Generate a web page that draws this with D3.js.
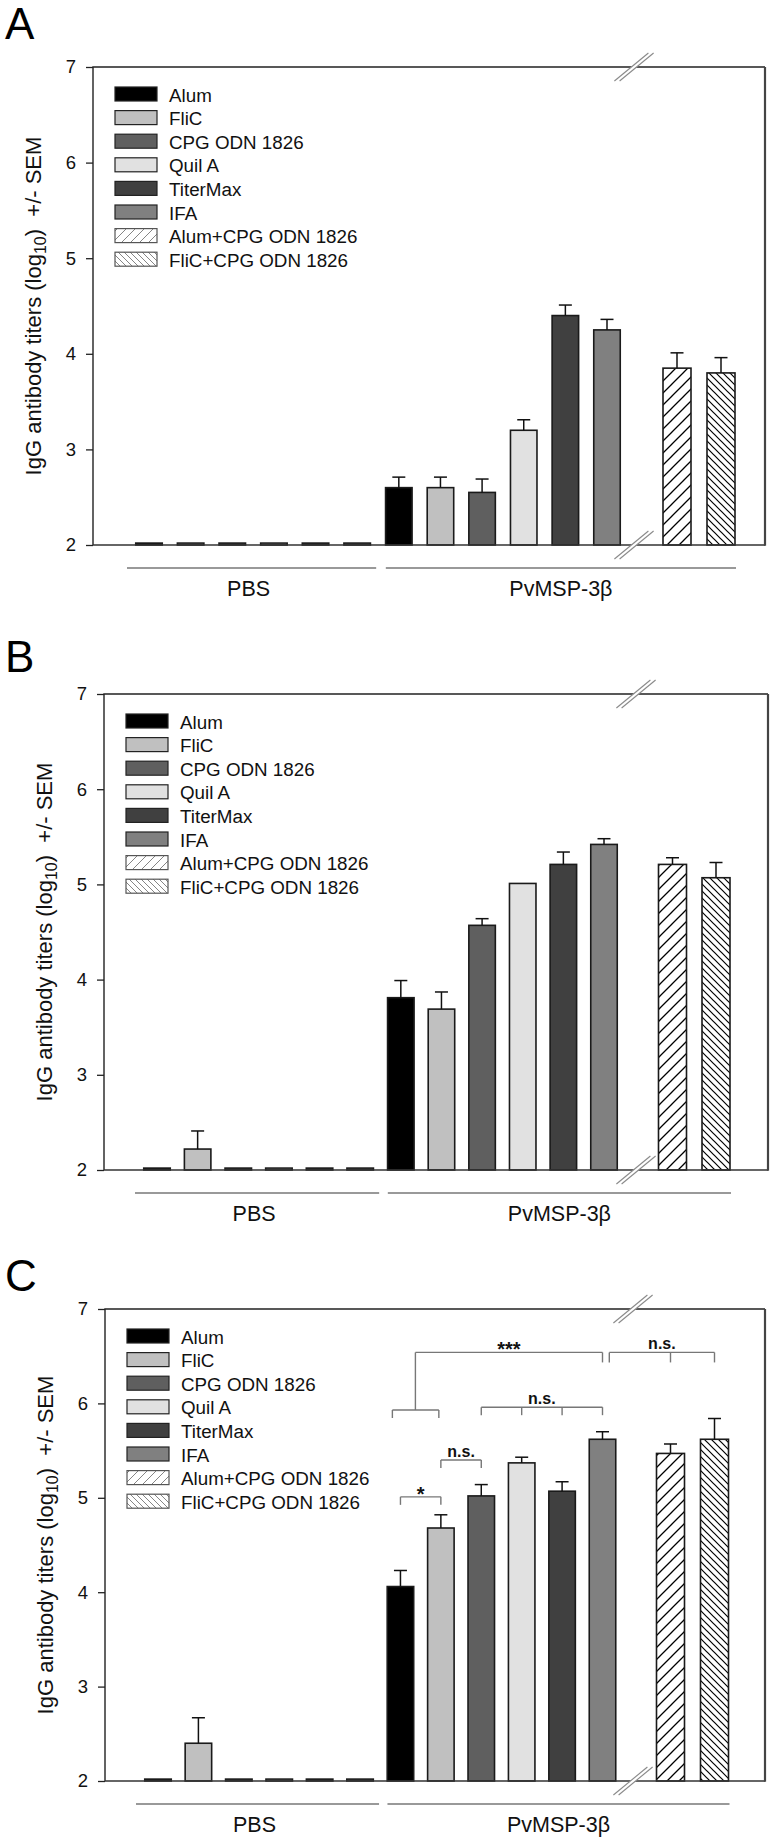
<!DOCTYPE html>
<html><head><meta charset="utf-8">
<script src="https://cdn.jsdelivr.net/npm/d3@7"></script>
<style>body{margin:0;background:#fff} text{font-family:"Liberation Sans",Arial,sans-serif}</style>
</head><body><svg id="c" width="775" height="1843"></svg>
<script>
// ---------- data ----------
const adjuvants = ["Alum","FliC","CPG ODN 1826","Quil A","TiterMax","IFA","Alum+CPG ODN 1826","FliC+CPG ODN 1826"];
const groups = ["PBS","PvMSP-3β"];
const yTicks = [2,3,4,5,6,7];
const panelLetters = ["A","B","C"];
// PBS group: first six adjuvants; PvMSP-3β group: all eight
const pbsA = [2.02,2.02,2.02,2.02,2.02,2.02];
const pbsSemA = [0,0,0,0,0,0];
const mspA = [2.6,2.6,2.55,3.2,4.4,4.25,3.85,3.8];
const mspSemA = [0.11,0.11,0.14,0.11,0.11,0.11,0.16,0.16];
const pbsB = [2.02,2.22,2.02,2.02,2.02,2.02];
const pbsSemB = [0,0.19,0,0,0,0];
const mspB = [3.81,3.69,4.57,5.01,5.21,5.42,5.21,5.07];
const mspSemB = [0.18,0.18,0.07,0,0.13,0.06,0.07,0.16];
const pbsC = [2.02,2.40,2.02,2.02,2.02,2.02];
const pbsSemC = [0,0.27,0,0,0,0];
const mspC = [4.06,4.68,5.02,5.37,5.07,5.62,5.47,5.62];
const mspSemC = [0.17,0.14,0.12,0.06,0.10,0.08,0.10,0.22];
// significance brackets for panel C: bar positions (0-13) and height in log10 units
const sigX = [[6,7],[7,8],[8,9,10,11],[5.8,6.95],[6.37,11],[11.1,12,13]];
const sigY = [5.01,5.40,5.96,5.93,6.54,6.54];
const sigLabel = ["*","n.s.","n.s.","","***","n.s."];

// ---------- layout ----------
const colors = ["#000000","#c0c0c0","#5f5f5f","#e1e1e1","#404040","#808080","url(#hF)","url(#hB)"];
const legColors = ["#000000","#c0c0c0","#5f5f5f","#e1e1e1","#404040","#808080","url(#lF)","url(#lB)"];
const panels = [
  {left:93, right:765, top:67, bottom:545, anchors:[149,607,677,721], brk:634, letterY:39, pbs:pbsA, pbsSem:pbsSemA, msp:mspA, mspSem:mspSemA},
  {left:104, right:768, top:694, bottom:1170, anchors:[157,604,672.5,716], brk:636, letterY:672, pbs:pbsB, pbsSem:pbsSemB, msp:mspB, mspSem:mspSemB},
  {left:105, right:765, top:1309, bottom:1781, anchors:[158,602.5,670.5,714.5], brk:633, letterY:1291, pbs:pbsC, pbsSem:pbsSemC, msp:mspC, mspSem:mspSemC, sig:true}
];

const svg = d3.select("#c");
const defs = svg.append("defs");
function hatch(id, size, dir, color, w){
  const p = defs.append("pattern").attr("id",id).attr("patternUnits","userSpaceOnUse")
    .attr("width",size).attr("height",size);
  p.append("rect").attr("width",size).attr("height",size).attr("fill","#fff");
  const s = size;
  const d = dir === "f"
    ? `M${-s/2},${s/2} L${s/2},${-s/2} M0,${s} L${s},0 M${s/2},${1.5*s} L${1.5*s},${s/2}`
    : `M${-s/2},${s/2} L${s/2},${1.5*s} M0,0 L${s},${s} M${s/2},${-s/2} L${1.5*s},${s/2}`;
  p.append("path").attr("d",d).attr("stroke",color).attr("stroke-width",w).attr("fill","none");
}
hatch("hF",12,"f","#000",1.3);
hatch("hB",7,"b","#000",1.2);
hatch("lF",9,"f","#777",0.9);
hatch("lB",6,"b","#777",0.9);

panels.forEach((P, pi) => {
  const g = svg.append("g");
  const y = d3.scaleLinear().domain([2,7]).range([P.bottom, P.top]);
  const x = d3.scaleLinear().domain([0,11,12,13]).range(P.anchors);
  const barW = 26.5, hatchW = 28;

  const bars = [];
  P.pbs.forEach((v,i) => bars.push({pos:i, adj:i, v, sem:P.pbsSem[i]}));
  P.msp.forEach((v,i) => bars.push({pos:6+i, adj:i, v, sem:P.mspSem[i]}));

  // bars
  g.selectAll("rect.bar").data(bars).join("rect").attr("class","bar")
    .attr("x", d => x(d.pos) - (d.adj>5?hatchW:barW)/2)
    .attr("width", d => d.adj>5?hatchW:barW)
    .attr("y", d => y(d.v))
    .attr("height", d => y(2) - y(d.v))
    .attr("fill", d => colors[d.adj])
    .attr("stroke","#1a1a1a").attr("stroke-width",1.6);

  // error bars (upper only)
  const eb = bars.filter(d => d.sem > 0);
  g.selectAll("line.ev").data(eb).join("line")
    .attr("x1", d => x(d.pos)).attr("x2", d => x(d.pos))
    .attr("y1", d => y(d.v)).attr("y2", d => y(d.v + d.sem))
    .attr("stroke","#111").attr("stroke-width",1.5);
  g.selectAll("line.ec").data(eb).join("line")
    .attr("x1", d => x(d.pos)-6.5).attr("x2", d => x(d.pos)+6.5)
    .attr("y1", d => y(d.v + d.sem)).attr("y2", d => y(d.v + d.sem))
    .attr("stroke","#111").attr("stroke-width",1.5);

  // frame
  g.append("path").attr("d",`M${P.left},${P.bottom} L${P.left},${P.top} L${P.right},${P.top}`)
    .attr("fill","none").attr("stroke","#222").attr("stroke-width",1.4);
  g.append("line").attr("x1",P.left).attr("x2",P.right).attr("y1",P.bottom).attr("y2",P.bottom)
    .attr("stroke","#333").attr("stroke-width",1.6);
  g.append("line").attr("x1",P.right).attr("x2",P.right).attr("y1",P.top).attr("y2",P.bottom+0.8)
    .attr("stroke","#444").attr("stroke-width",2.2);

  // y axis
  const ax = g.append("g").attr("transform",`translate(${P.left},0)`)
    .call(d3.axisLeft(y).tickValues(yTicks).tickFormat(d3.format("d")).tickSize(7).tickPadding(10));
  ax.select(".domain").remove();
  ax.selectAll(".tick line").attr("stroke","#222").attr("stroke-width",1.3);
  ax.selectAll(".tick text").attr("font-size",18.5).attr("fill","#111")
    .style("font-family",'"Liberation Sans",Arial,sans-serif');

  // axis breaks
  [P.top, P.bottom].forEach(by => {
    const bx = P.brk, dx = 17, dy = 14, gap = 2.6;
    g.append("path").attr("d",`M${bx-dx-gap},${by+dy} L${bx+dx-gap},${by-dy} L${bx+dx+gap},${by-dy} L${bx-dx+gap},${by+dy} Z`)
      .attr("fill","#fff");
    [-gap,gap].forEach(o => g.append("line")
      .attr("x1",bx-dx+o).attr("y1",by+dy).attr("x2",bx+dx+o).attr("y2",by-dy)
      .attr("stroke","#8a8a8a").attr("stroke-width",1.1));
  });

  // group lines and labels
  const gl = [[x(0)-22, x(5)+19],[x(6)-13, x(13)+15]];
  gl.forEach((e,i) => {
    g.append("line").attr("x1",e[0]).attr("x2",e[1]).attr("y1",P.bottom+23).attr("y2",P.bottom+23)
      .attr("stroke","#777").attr("stroke-width",1.4);
    g.append("text").attr("x",(e[0]+e[1])/2 - (i===0?3:0)).attr("y",P.bottom+51)
      .attr("text-anchor","middle").attr("font-size",21.5).attr("fill","#111").text(groups[i]);
  });

  // y title
  const t = g.append("text").attr("transform",`translate(${P.left-52},${(P.top+P.bottom)/2}) rotate(-90)`)
    .attr("text-anchor","middle").attr("font-size",22).attr("fill","#111");
  t.append("tspan").text("IgG antibody titers (log");
  t.append("tspan").attr("font-size",16).attr("dy",5).text("10");
  t.append("tspan").attr("dy",-5).text(")\u00a0 +/- SEM");

  // panel letter
  g.append("text").attr("x",5).attr("y",P.letterY).attr("font-size",44).attr("fill","#000").text(panelLetters[pi]);

  // legend
  const lg = g.append("g").attr("transform",`translate(${P.left+22},${P.top+20})`);
  adjuvants.forEach((a,i) => {
    lg.append("rect").attr("x",0).attr("y",i*23.6).attr("width",42).attr("height",14)
      .attr("fill",legColors[i]).attr("stroke", i>5 ? "#555" : "#222").attr("stroke-width",1.2);
    lg.append("text").attr("x",54).attr("y",i*23.6+14.5).attr("font-size",18.8).attr("fill","#111").text(a);
  });

  // significance
  if (P.sig) {
    const sg = g.append("g").attr("stroke","#777").attr("stroke-width",1.4).attr("fill","none");
    sigX.forEach((xs,k) => {
      const yy = y(sigY[k]);
      const x0 = x(xs[0]), x1 = x(xs[xs.length-1]);
      const drop = (k===4||k===5) ? 10 : 8;
      sg.append("line").attr("x1",x0).attr("x2",x1).attr("y1",yy).attr("y2",yy);
      xs.forEach((xx,j) => {
        let yEnd = yy + drop;
        if (k===4 && j===0) yEnd = y(sigY[3]);
        sg.append("line").attr("x1",x(xx)).attr("x2",x(xx)).attr("y1",yy).attr("y2",yEnd);
      });
      if (sigLabel[k]) {
        const star = sigLabel[k].startsWith("*");
        g.append("text").attr("x",(x0+x1)/2).attr("y", star ? yy+4 : yy-3)
          .attr("text-anchor","middle").attr("font-weight","bold")
          .attr("font-size", star ? 20 : 16).attr("fill","#111").text(sigLabel[k]);
      }
    });
  }
});
</script></body></html>
